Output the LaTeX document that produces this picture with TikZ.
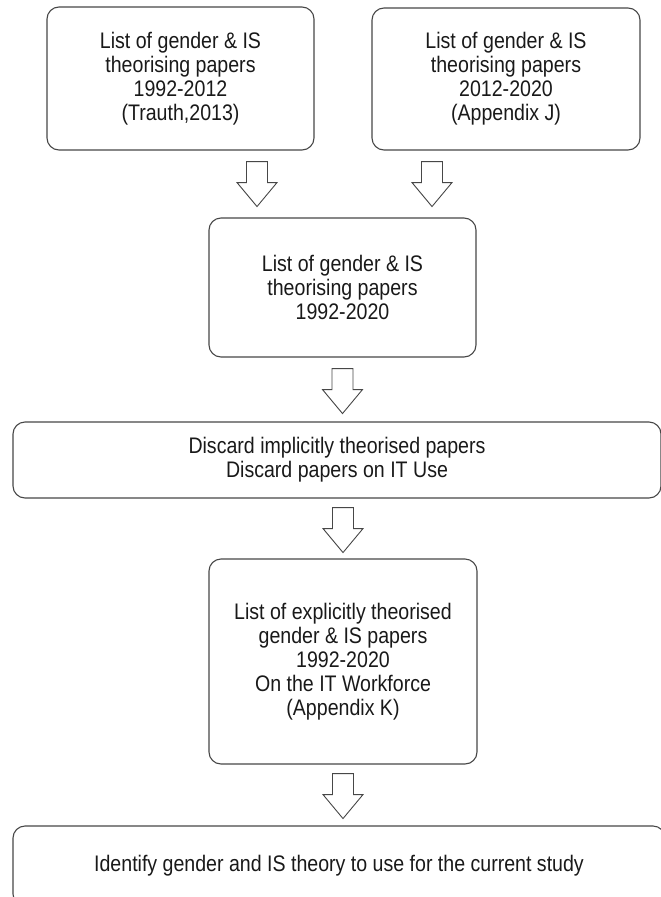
\documentclass[tikz,border=0pt]{standalone}
\usepackage{fontspec}
\setmainfont{Liberation Sans}[FakeStretch=0.87]
\usetikzlibrary{calc}

\tikzset{
  stagebox/.style={draw=black!72, line width=1.1pt, rounded corners=12pt, align=center,
    inner sep=0pt, text=black!90, font=\fontsize{22.5}{24}\selectfont},
  blockarrow/.style={draw=black!72, line width=0.9pt, fill=white, line join=miter},
}
% hollow block arrow, #1 = top centre of the shaft
\newcommand{\flowarrow}[1]{%
  \draw[blockarrow] #1 ++(-10.5pt,0) -- ++(0,-21pt) -- ++(-9.5pt,0) -- ++(20pt,-24pt)
    -- ++(20pt,24pt) -- ++(-9.5pt,0) -- ++(0,21pt) -- cycle;}

\begin{document}
\begin{tikzpicture}[x=1pt, y=-1pt]
            \useasboundingbox (0,0) rectangle (661,897);

            % 文献来源
            \node[stagebox, minimum width=267pt, minimum height=143pt] (src1) at (180.5,78.5)
              {List of gender \& IS\\theorising papers\\1992-2012\\(Trauth,2013)};
            \node[stagebox, minimum width=268pt, minimum height=142pt] (src2) at (506,79)
              {List of gender \& IS\\ theorising papers\\2012-2020\\(Appendix J)};

            % 合并与筛选
            \node[stagebox, minimum width=267pt, minimum height=139pt] (merged) at (342.5,287.5)
              {List of gender \& IS\\theorising papers\\1992-2020};
            \node[stagebox, minimum width=648pt, minimum height=76pt] (discard) at (337,460)
              {Discard implicitly theorised papers\\Discard papers on IT Use};
            \node[stagebox, minimum width=268pt, minimum height=205pt] (explicit) at (343,661.5)
              {List of explicitly theorised\\gender \& IS papers\\1992-2020\\On the IT Workforce\\(Appendix K)};
            \node[stagebox, minimum width=652pt, minimum height=80pt] (theory) at (339,866)
              {Identify gender and IS theory to use for the current study};

            % 箭头
            \coordinate (in1) at ($(merged.north)+(-85.5pt,0)$);
            \coordinate (in2) at ($(merged.north)+(89.5pt,0)$);
            \flowarrow{($(src1.south -| in1)+(0,-11pt)$)}
            \flowarrow{($(src2.south -| in2)+(0,-11pt)$)}
            \flowarrow{($(merged.south)+(0,-11pt)$)}
            \flowarrow{($(discard.south -| explicit.north)+(0,-9pt)$)}
            \flowarrow{($(explicit.south)+(0,-9pt)$)}
        \end{tikzpicture}
\end{document}
